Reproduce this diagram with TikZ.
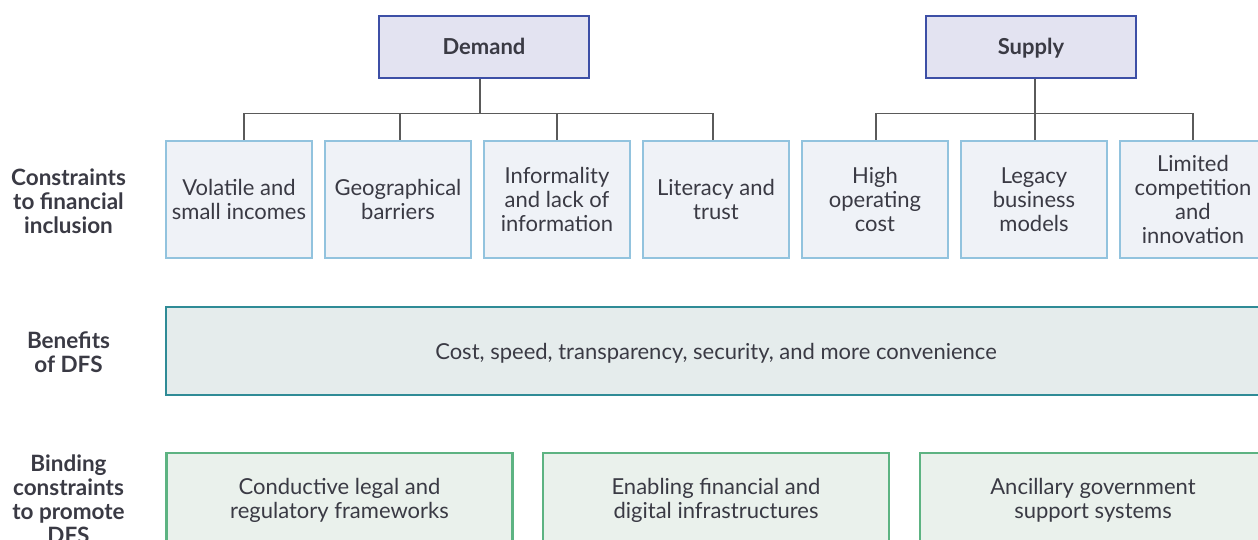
\documentclass[tikz,border=0pt]{standalone}
\usepackage{fontspec}
\setmainfont{Lato}
\begin{document}
\begin{tikzpicture}[x=1pt,y=-1pt,
  every node/.style={text=txt, font=\fontsize{22}{24}\selectfont, align=center, inner sep=0pt},
  headbox/.style={draw=headline, fill=headfill, line width=2.5pt, minimum width=210pt, minimum height=62pt,
    text height=17pt, text depth=2.5pt, font=\fontsize{22}{24}\selectfont\bfseries},
  conbox/.style={draw=conline, fill=confill, line width=2.5pt, minimum width=146pt, minimum height=117pt},
  benbox/.style={draw=benline, fill=benfill, line width=2.5pt, minimum width=1100pt, minimum height=88pt,
    text depth=0pt},
  bindbox/.style={draw=bindline, fill=bindfill, line width=2.5pt, minimum width=346pt, minimum height=94pt},
  rowlabel/.style={font=\fontsize{22.5}{24}\selectfont\bfseries},
  link/.style={draw=linkgray, line width=1.3pt}
]
\definecolor{txt}{HTML}{3A3A44}
\definecolor{headline}{HTML}{3D4FA6}
\definecolor{headfill}{HTML}{E3E3F1}
\definecolor{conline}{HTML}{92C3DE}
\definecolor{confill}{HTML}{EFF2F7}
\definecolor{benline}{HTML}{2F8B96}
\definecolor{benfill}{HTML}{E5ECEC}
\definecolor{bindline}{HTML}{5DB382}
\definecolor{bindfill}{HTML}{EAF1EC}
\definecolor{linkgray}{HTML}{5A5A5A}

\useasboundingbox (0,0) rectangle (1258,540);
\clip (0,0) rectangle (1258,540);

% row labels
\node[rowlabel] (lab1) at (68.5,201) {Constraints\\to financial\\inclusion};
\node[rowlabel] (lab2) at (68.5,352) {Benefits\\of DFS};
\node[rowlabel, anchor=north] (lab3) at (68.5,455) {Binding\\constraints\\to promote\\DFS};

% top level
\node[headbox] (dem) at (484,47) {Demand};
\node[headbox] (sup) at (1031,47) {Supply};

% constraint boxes
\node[conbox] (c1) at (239,199.5) {Volatile and\\small incomes};
\node[conbox] (c2) at (398,199.5) {Geographical\\barriers};
\node[conbox] (c3) at (557,199.5) {Informality\\and lack of\\information};
\node[conbox] (c4) at (716,199.5) {Literacy and\\trust};
\node[conbox] (c5) at (875,199.5) {High\\operating\\cost};
\node[conbox] (c6) at (1034,199.5) {Legacy\\business\\models};
\node[conbox] (c7) at (1193,199.5) {Limited\\competition\\and\\innovation};

% tree connectors: stems and drop points on the horizontal bars
\coordinate (dstem) at (480,113.5);
\coordinate (sstem) at (1035,113.5);
\coordinate (d1) at (244,113.5);
\coordinate (d2) at (400,113.5);
\coordinate (d3) at (557,113.5);
\coordinate (d4) at (713,113.5);
\coordinate (d5) at (876,113.5);
\coordinate (d6) at (1035,113.5);
\coordinate (d7) at (1193,113.5);
\draw[link] (dstem |- dem.south) -- (dstem);
\draw[link] (sstem |- sup.south) -- (sstem);
\draw[link] (d1) -- (d4);
\draw[link] (d5) -- (d7);
\draw[link] (d1) -- (d1 |- c1.north);
\draw[link] (d2) -- (d2 |- c2.north);
\draw[link] (d3) -- (d3 |- c3.north);
\draw[link] (d4) -- (d4 |- c4.north);
\draw[link] (d5) -- (d5 |- c5.north);
\draw[link] (d6) -- (d6 |- c6.north);
\draw[link] (d7) -- (d7 |- c7.north);

% benefits
\node[benbox] (ben) at (716,351) {Cost, speed, transparency, security, and more convenience};

% binding constraints
\node[bindbox] (b1) at (339.5,500) {Conductive legal and\\regulatory frameworks};
\node[bindbox] (b2) at (716,500) {Enabling financial and\\digital infrastructures};
\node[bindbox] (b3) at (1093,500) {Ancillary government\\support systems};
\end{tikzpicture}
\end{document}
